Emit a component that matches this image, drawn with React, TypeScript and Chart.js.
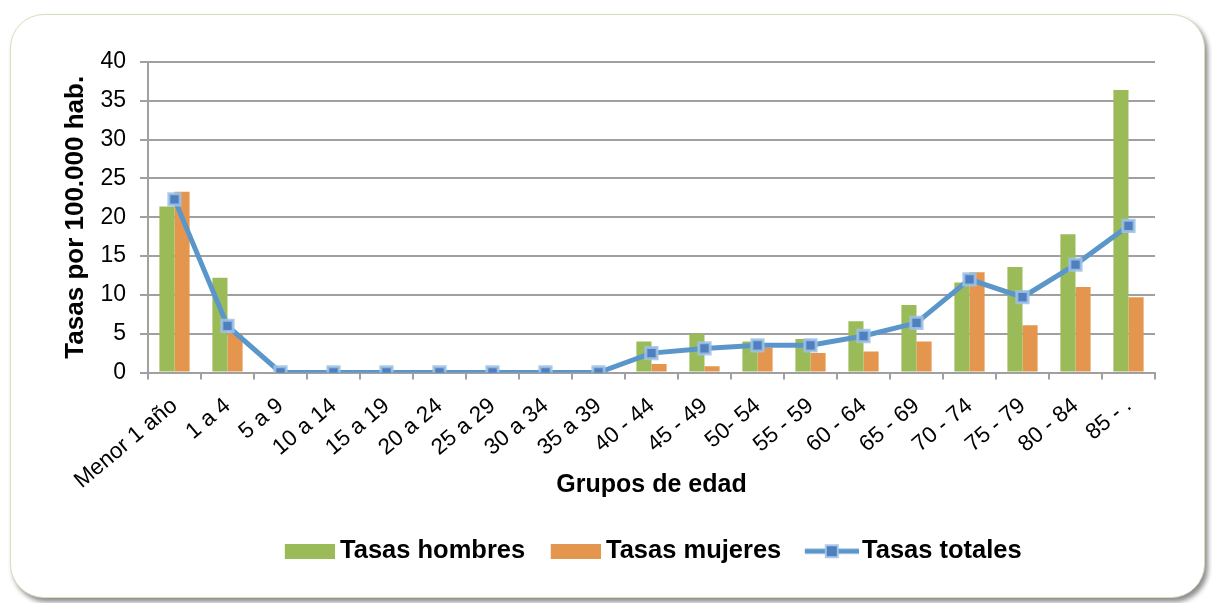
import React, { useEffect, useRef } from 'react';
import { Chart, registerables } from 'chart.js';

Chart.register(...registerables);

const categories = [
  'Menor 1 año', '1 a 4', '5 a 9', '10 a 14', '15 a 19', '20 a 24', '25 a 29',
  '30 a 34', '35 a 39', '40 - 44', '45 - 49', '50- 54', '55 - 59', '60 - 64',
  '65 - 69', '70 - 74', '75 - 79', '80 - 84', '85 - .',
];
const tasasHombres = [21.4, 12.2, 0, 0, 0, 0, 0, 0, 0, 4.0, 5.0, 4.0, 4.3, 6.6, 8.7, 11.6, 13.6, 17.8, 36.4];
const tasasMujeres = [23.3, 5.0, 0, 0, 0, 0, 0, 0, 0, 1.1, 0.8, 3.2, 2.5, 2.7, 4.0, 12.9, 6.1, 11.0, 9.7];
const tasasTotales = [22.3, 6.0, 0, 0, 0, 0, 0, 0, 0, 2.5, 3.1, 3.5, 3.5, 4.7, 6.4, 12.0, 9.7, 13.9, 18.9];
const yTicks = [0, 5, 10, 15, 20, 25, 30, 35, 40];

const GREEN = '#9BBB59';
const ORANGE = '#E5964E';
const BLUE = '#5A96CA';
const GRID = '#A0A0A0';
const FONT = "'Liberation Sans', Arial, sans-serif";

function makeBoxImage(color: string) {
  const c = document.createElement('canvas');
  c.width = 61;
  c.height = 15;
  const ctx = c.getContext('2d')!;
  ctx.fillStyle = color;
  ctx.fillRect(11, 0, 50, 15);
  return c;
}

function makeLineImage() {
  const c = document.createElement('canvas');
  c.width = 65;
  c.height = 16;
  const ctx = c.getContext('2d')!;
  ctx.strokeStyle = BLUE;
  ctx.lineWidth = 5;
  ctx.beginPath();
  ctx.moveTo(11, 8);
  ctx.lineTo(65, 8);
  ctx.stroke();
  ctx.fillStyle = 'rgba(160,195,230,0.9)';
  ctx.fillRect(31, 1, 14, 14);
  ctx.fillStyle = '#4F7FBF';
  ctx.fillRect(33, 3, 10, 10);
  return c;
}

export default function App() {
  const ref = useRef<HTMLCanvasElement | null>(null);

  useEffect(() => {
    if (!ref.current) return;
    const imgs = [makeBoxImage(GREEN), makeBoxImage(ORANGE), makeLineImage()];
    const chart = new Chart(ref.current, {
      type: 'bar',
      data: {
        labels: categories,
        datasets: [
          {
            type: 'line',
            label: 'Tasas totales',
            data: tasasTotales,
            borderColor: BLUE,
            borderWidth: 5,
            backgroundColor: '#4F7FBF',
            pointStyle: 'rect',
            pointRadius: 8,
            pointBorderWidth: 3,
            pointBorderColor: 'rgba(160,195,230,0.85)',
            pointBackgroundColor: '#4F7FBF',
            tension: 0,
            order: 0,
          } as any,
          {
            label: 'Tasas hombres',
            data: tasasHombres,
            backgroundColor: GREEN,
            categoryPercentage: 0.57,
            barPercentage: 1,
            order: 1,
          },
          {
            label: 'Tasas mujeres',
            data: tasasMujeres,
            backgroundColor: ORANGE,
            categoryPercentage: 0.57,
            barPercentage: 1,
            order: 1,
          },
        ],
      },
      options: {
        responsive: false,
        animation: false,
        devicePixelRatio: 1,
        layout: { padding: { left: 0, right: 57, top: 62, bottom: 29 } },
        plugins: {
          tooltip: { enabled: false },
          legend: {
            position: 'bottom',
            fullSize: false,
            labels: {
              usePointStyle: true,
              pointStyleWidth: 46,
              boxHeight: 15,
              padding: 22,
              color: '#000',
              font: { family: FONT, size: 25.5, weight: 'bold' },
              sort: (a: any, b: any) => {
                const orderMap: Record<string, number> = { 'Tasas hombres': 0, 'Tasas mujeres': 1, 'Tasas totales': 2 };
                return orderMap[a.text] - orderMap[b.text];
              },
              generateLabels: (ch: any) => {
                const items = Chart.defaults.plugins.legend.labels.generateLabels(ch);
                return items.map((it: any) => {
                  const idx = it.text === 'Tasas hombres' ? 0 : it.text === 'Tasas mujeres' ? 1 : 2;
                  return { ...it, pointStyle: imgs[idx], lineWidth: 0 };
                });
              },
            },
          },
        },
        scales: {
          x: {
            offset: true,
            grid: {
              display: true,
              drawOnChartArea: false,
              drawTicks: true,
              tickLength: 7,
              color: GRID,
              lineWidth: 2,
              offset: true,
            },
            border: { display: true, color: GRID, width: 2 },
            ticks: {
              minRotation: 40,
              maxRotation: 40,
              autoSkip: false,
              padding: 13,
              color: '#000',
              font: { family: FONT, size: 22.5 },
            },
            title: {
              display: true,
              text: 'Grupos de edad',
              color: '#000',
              font: { family: FONT, size: 25, weight: 'bold' },
              padding: { top: 0, bottom: 16.5 },
            },
            afterFit: (s: any) => {
              s.height = 144;
            },
          },
          y: {
            min: 0,
            max: 40,
            afterBuildTicks: (s: any) => {
              s.ticks = yTicks.map((v) => ({ value: v }));
            },
            grid: {
              color: GRID,
              lineWidth: 2,
              drawTicks: true,
              tickLength: 8,
            },
            border: { display: true, color: GRID, width: 2 },
            ticks: {
              padding: 14,
              color: '#000',
              font: { family: FONT, size: 23 },
            },
            title: {
              display: true,
              text: 'Tasas por 100.000 hab.',
              color: '#000',
              font: { family: FONT, size: 26, weight: 'bold' },
              padding: { top: 60, bottom: 0 },
            },
            afterFit: (s: any) => {
              s.width = 148;
            },
          },
        },
      } as any,
    });
    return () => chart.destroy();
  }, []);

  return (
    <div style={{ position: 'fixed', left: 0, top: 0, width: 1212, height: 603, background: '#fff' }}>
      <div
        style={{
          position: 'absolute',
          left: 10,
          top: 14,
          width: 1193,
          height: 582,
          borderRadius: 34,
          border: '1px solid #cfe2b8',
          boxShadow: '3px 4px 5px rgba(0,0,0,0.45)',
          background: '#fff',
        }}
      />
      <canvas
        ref={ref}
        width={1212}
        height={603}
        style={{ position: 'absolute', left: 0, top: 0, width: 1212, height: 603 }}
      />
    </div>
  );
}
